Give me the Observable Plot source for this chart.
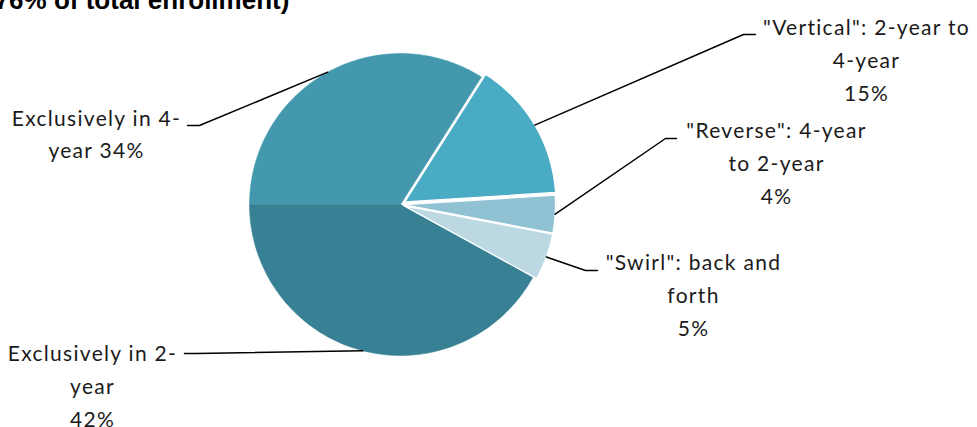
<!DOCTYPE html>
<html><head><meta charset="utf-8">
<script src="https://cdn.jsdelivr.net/npm/d3@7"></script>
<script src="https://cdn.jsdelivr.net/npm/@observablehq/plot@0.6"></script>
<style>
html,body{margin:0;padding:0;background:#fff;overflow:hidden}
#wrap{position:relative;width:977px;height:427px;overflow:hidden}
#title{position:absolute;left:-14px;top:-13px;font:bold 26px/26px "Liberation Sans",Arial,sans-serif;white-space:nowrap;color:#000}
#chart{position:absolute;left:0;top:0}
#chart svg text{letter-spacing:1.3px}
</style></head><body>
<div id="wrap"><div id="chart"></div><div id="title">(76% of total enrollment)</div></div>
<script>
// ---- data ----
const categories = ["Exclusively in 4-year", "\"Vertical\": 2-year to 4-year", "\"Reverse\": 4-year to 2-year", "\"Swirl\": back and forth", "Exclusively in 2-year"];
const shares = [34, 15, 4, 5, 42];
const labelTexts = ["Exclusively in 4-\nyear 34%", "\"Vertical\": 2-year to\n4-year\n15%", "\"Reverse\": 4-year\nto 2-year\n4%", "\"Swirl\": back and\nforth\n5%", "Exclusively in 2-\nyear\n42%"];

// ---- styles / layout ----
const colors = ["#4398ae", "#4aabc4", "#91c2d4", "#bbd8e3", "#388195"];
const explodePx = [0, 5, 4, 4, 0];
const W = 977, H = 427, CX = 400, CY = 204, R = 151;
const labelPos = [[96, 131], [866, 57], [776, 160], [693, 292], [92, 383]];
const elbowPos = [[199, 125], [743, 34], [665, 138], [585, 270], [196, 353]];
const tailPos  = [[187, 125], [755, 34], [676, 138], [597, 270], [184, 353]];

// ---- geometry via d3.pie ----
const arcs = d3.pie().sort(null).startAngle(-Math.PI / 2).endAngle(3 * Math.PI / 2)(shares);
const slicePts = [];
const leaderPts = [];
arcs.forEach((a, i) => {
  const mid = (a.startAngle + a.endAngle) / 2;
  const ox = CX + explodePx[i] * Math.sin(mid), oy = CY - explodePx[i] * Math.cos(mid);
  const n = Math.max(4, Math.ceil((a.endAngle - a.startAngle) / (Math.PI / 180)));
  slicePts.push({k: categories[i], x: ox, y: oy, o: i});
  for (let j = 0; j <= n; j++) {
    const t = a.startAngle + (a.endAngle - a.startAngle) * j / n;
    slicePts.push({k: categories[i], x: ox + R * Math.sin(t), y: oy - R * Math.cos(t), o: i});
  }
  slicePts.push({k: categories[i], x: ox, y: oy, o: i});
  const ax = ox + R * Math.sin(mid), ay = oy - R * Math.cos(mid);
  leaderPts.push({k: categories[i], x: ax, y: ay});
  leaderPts.push({k: categories[i], x: elbowPos[i][0], y: elbowPos[i][1]});
  leaderPts.push({k: categories[i], x: tailPos[i][0], y: tailPos[i][1]});
});
const mainPts = slicePts.filter(d => explodePx[d.o] === 0);
const expPts = slicePts.filter(d => explodePx[d.o] !== 0);
const labels = categories.map((c, i) => ({k: c, x: labelPos[i][0], y: labelPos[i][1], t: labelTexts[i]}));

const chart = Plot.plot({
  width: W, height: H,
  margin: 0,
  x: {type: "linear", domain: [0, W], range: [0, W], axis: null},
  y: {type: "linear", domain: [0, H], range: [0, H], axis: null},
  color: {domain: categories, range: colors},
  style: {background: "white", fontFamily: "Lato, sans-serif"},
  marks: [
    Plot.line(mainPts, {x: "x", y: "y", z: "k", fill: "k", stroke: "k", strokeWidth: 0.5}),
    Plot.line(expPts, {x: "x", y: "y", z: "k", fill: "k", stroke: "white", strokeWidth: 1.2, strokeLinejoin: "miter"}),
    Plot.line(leaderPts, {x: "x", y: "y", z: "k", stroke: "black", strokeWidth: 1.5}),
    Plot.text(labels, {x: "x", y: "y", text: "t", fontSize: 21, lineHeight: 1.56, textAnchor: "middle", fill: "#1a1a1a", fontFamily: "Lato, sans-serif"})
  ]
});
document.getElementById("chart").appendChild(chart);
</script>
</body></html>
